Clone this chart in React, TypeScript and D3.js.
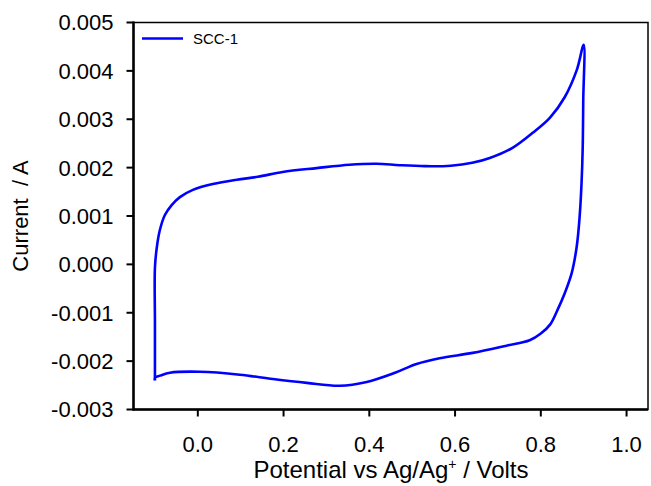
import React from 'react'
import * as d3 from 'd3'

// anodic sweep -0.1 -> 0.9 V, then cathodic sweep back to -0.1 V
const potential = [
  -0.1, -0.1, -0.1, -0.0955, -0.0885, -0.0768, -0.0605, -0.0418, -0.0115, 0.035, 0.091, 0.14,
  0.198, 0.277, 0.354, 0.417, 0.471, 0.53, 0.59, 0.64, 0.681, 0.734, 0.781, 0.821, 0.856, 0.884, 0.9,
  0.899, 0.8976, 0.895, 0.8905, 0.8836, 0.872, 0.856, 0.839, 0.822, 0.8, 0.774, 0.72, 0.641,
  0.564, 0.51, 0.46, 0.394, 0.331, 0.254, 0.175, 0.098, 0.005, -0.065, -0.088, -0.1, -0.1,
]
const current = [
  -0.0024, -0.0012, -0.00007, 0.00036, 0.00071, 0.00102, 0.00123, 0.00139, 0.00154, 0.00166, 0.00175, 0.00181,
  0.00191, 0.00199, 0.00206, 0.00208, 0.00205, 0.00203, 0.00204, 0.0021, 0.0022, 0.00241, 0.00272, 0.00303, 0.00346, 0.00402, 0.00454,
  0.0034, 0.00237, 0.00168, 0.00098, 0.00036, -0.00018, -0.00059, -0.00094, -0.00124, -0.00143, -0.00157, -0.00168, -0.00183,
  -0.00194, -0.00206, -0.00224, -0.00243, -0.00251, -0.00245, -0.00237, -0.00228, -0.00222, -0.00224, -0.0023, -0.00234, -0.0024,
]
const xTicks = [0, 0.2, 0.4, 0.6, 0.8, 1.0]
const yTicks = [-0.003, -0.002, -0.001, 0, 0.001, 0.002, 0.003, 0.004, 0.005]
const seriesName = 'SCC-1'

const left = 133.5
const right = 648
const top = 22.5
const bottom = 409.5

export default function App() {
  const x = d3.scaleLinear().domain([-0.15, 1.05]).range([left, right])
  const y = d3.scaleLinear().domain([-0.003, 0.005]).range([bottom, top])

  const pts: [number, number][] = potential.map((v, i) => [v, current[i]])
  const line = d3.line<[number, number]>()
    .x(d => x(d[0]))
    .y(d => y(d[1]))
    .curve(d3.curveCatmullRom.alpha(0.5))

  const font = 'Liberation Sans, Arial, sans-serif'

  return (
    <svg width={651} height={486} style={{ position: 'absolute', left: 0, top: 0, background: '#fff' }}>
      <rect x={left} y={top} width={right - left} height={bottom - top} fill="none" stroke="#000" strokeWidth={1.5} />
      <line x1={left} x2={left} y1={top - 1} y2={bottom + 1} stroke="#000" strokeWidth={2.5} />
      <line x1={left - 1} x2={right} y1={bottom} y2={bottom} stroke="#000" strokeWidth={2.5} />

      {yTicks.map(t => (
        <g key={'y' + t}>
          <line x1={left - 7} x2={left} y1={y(t)} y2={y(t)} stroke="#000" strokeWidth={2} />
          <text x={left - 20} y={y(t)} dy="0.36em" textAnchor="end" fontFamily={font} fontSize={22}>
            {d3.format('.3f')(t).replace('−', '-')}
          </text>
        </g>
      ))}
      {xTicks.map(t => (
        <g key={'x' + t}>
          <line x1={x(t)} x2={x(t)} y1={bottom} y2={bottom + 7} stroke="#000" strokeWidth={2} />
          <text x={x(t)} y={bottom + 42.5} textAnchor="middle" fontFamily={font} fontSize={22}>
            {d3.format('.1f')(t)}
          </text>
        </g>
      ))}

      <text transform={`translate(28, ${216}) rotate(-90)`} textAnchor="middle" fontFamily={font} fontSize={22}
        style={{ whiteSpace: 'pre' }}>
        {'Current  / A'}
      </text>
      <text x={391} y={478} textAnchor="middle" fontFamily={font} fontSize={24}>
        Potential vs Ag/Ag<tspan dy={-9} fontSize={14}>+</tspan><tspan dy={9}> / Volts</tspan>
      </text>

      <line x1={142} x2={183} y1={38.5} y2={38.5} stroke="#0000ff" strokeWidth={2.5} />
      <text x={193} y={38.5} dy="0.36em" fontFamily={font} fontSize={15}>{seriesName}</text>

      <path d={line(pts) ?? ''} fill="none" stroke="#0000ff" strokeWidth={2.6} strokeLinejoin="round" />
    </svg>
  )
}
